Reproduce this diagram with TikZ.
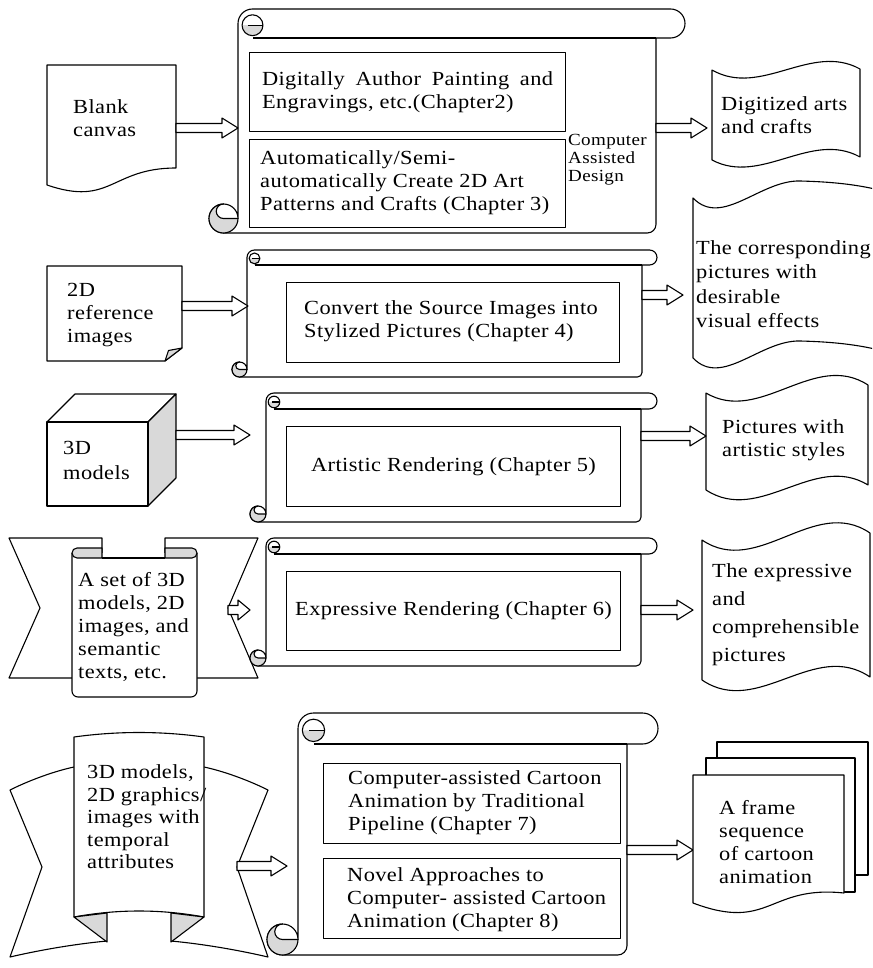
\documentclass[tikz,border=0pt]{standalone}
\usepackage{fontspec}
\setmainfont{Liberation Serif}[FakeStretch=1.12, LetterSpace=2]
\usetikzlibrary{calc}
\definecolor{rollgray}{RGB}{217,217,217}
\tikzset{
  ln/.style={line width=1.1pt, line join=round},
  txt/.style={font=\fontsize{20}{23}\selectfont, align=left, inner sep=0pt, anchor=west},
  hollow/.style={ln, fill=white, to path={let \p1=(\tikztostart), \p2=(\tikztotarget) in
     (\x1,\y1+4.5pt) -- (\x2-#1,\y1+4.5pt) -- (\x2-#1,\y1+10pt) -- (\x2,\y1) -- (\x2-#1,\y1-10pt) -- (\x2-#1,\y1-4.5pt) -- (\x1,\y1-4.5pt) -- cycle}},
  hollow/.default=16pt,
  box/.style={ln, draw, fill=white},
}
% horizontal scroll: left, right, top, bottom, bar height
\newcommand\hscroll[5]{%
\pgfmathsetmacro\sL{#1}%
\pgfmathsetmacro\sR{#2}%
\pgfmathsetmacro\sT{#3}%
\pgfmathsetmacro\sB{#4}%
\pgfmathsetmacro\sc{#5}%
\pgfmathsetmacro\sh{#5/2}%
\pgfmathsetmacro\sq{#5/4}%
\pgfmathsetmacro\sk{0.3*#5}%
\pgfmathsetmacro\sr{0.36*#5}%
\pgfmathsetmacro\cx{#1+#5/2}%
\pgfmathsetmacro\cy{#3+0.56*#5}%
\draw[ln,fill=white] (\sL,\sT+\sh) arc[start angle=180,end angle=270,radius=\sh]
  -- (\sR+\sh,\sT) arc[start angle=-90,end angle=90,radius=\sh]
  -- (\sR,\sT+\sc) -- (\sR,\sB-\sk) arc[start angle=0,end angle=90,radius=\sk]
  -- (\sL-\sh,\sB) arc[start angle=90,end angle=360,radius=\sh]
  -- cycle;
\draw[ln] (\sR,\sT+\sc) -- (\cx,\sT+\sc);
\fill[rollgray] (\cx-\sr,\cy) arc[start angle=180,end angle=0,radius=\sr] -- cycle;
\draw[ln] (\cx,\cy) circle[radius=\sr];
\draw[ln] (\cx-0.4*\sr,\cy) -- (\cx+\sr,\cy);
\filldraw[ln,fill=rollgray] (\sL-\sh,\sB) arc[start angle=90,end angle=270,radius=\sh]
  arc[start angle=270,end angle=90,radius=\sq]
  -- (\sL,\sB-\sh) arc[start angle=0,end angle=90,radius=\sh] -- cycle;
}
\begin{document}
\begin{tikzpicture}[x=1pt,y=-1pt]
\useasboundingbox (0,0) rectangle (872,968);
\clip (0,0) rectangle (872,968);

% ---------- Row 1 ----------
\draw[ln] (47,65) -- (176,65) -- (176,168) .. controls (111,168) and (111,207) .. (47,185) -- cycle;
\node[txt] (canvas) at (73,118.5) {Blank\\canvas};
\hscroll{238}{656}{9}{233}{29}
\node[box, minimum width=316pt, minimum height=79pt, anchor=north west] (b1) at (249,52) {};
\node[box, minimum width=316pt, minimum height=88pt, anchor=north west] (b2) at (249,139) {};
\node[txt, anchor=center, text width=291pt, align=justify] (t1) at (b1.center) {Digitally Author Painting and Engravings, etc.(Chapter2)};
\node[txt] (t2) at (260,183) {Automatically/Semi-\\automatically Create 2D Art\\Patterns and Crafts (Chapter 3)};
\node[txt, font=\fontsize{17}{18}\selectfont] (cad) at (568,160) {Computer\\Assisted\\Design};
\coordinate (a1s) at (176,128); \coordinate (a1e) at (238,128);
\draw[hollow] (a1s) to (a1e);
\coordinate (a2s) at (656,128); \coordinate (a2e) at (707,128);
\draw[hollow] (a2s) to (a2e);
\draw[ln] (712,70) .. controls (761,98) and (811,42) .. (860,69) -- (860,157) .. controls (811,130) and (761,186) .. (712,160) -- cycle;
\node[txt] (o1) at (721,115) {Digitized arts\\and crafts};

% ---------- Row 2 ----------
\draw[ln] (47,266) -- (182,266) -- (182,348) -- (165,361) -- (47,361) -- cycle;
\filldraw[ln,fill=rollgray] (182,348) -- (165,361) -- (168.5,350.5) -- cycle;
\node[txt] (ref) at (67,315) {2D\\reference\\images};
\hscroll{247}{642}{250}{377}{15}
\node[box, minimum width=333pt, minimum height=80pt, anchor=north west] (b3) at (286,282) {};
\node[txt] (t3) at (304,321) {Convert the Source Images into\\Stylized Pictures (Chapter 4)};
\coordinate (a3s) at (182,306); \coordinate (a3e) at (248,306);
\draw[hollow] (a3s) to (a3e);
\coordinate (a4s) at (642,295); \coordinate (a4e) at (683,295);
\draw[hollow] (a4s) to (a4e);
\draw[ln] (693,198) .. controls (722,228) and (760,180) .. (800,181) .. controls (840,182) and (870,186) .. (900,196)
  -- (900,356) .. controls (870,346) and (840,342) .. (800,341) .. controls (760,340) and (722,388) .. (693,358) -- cycle;
\node[txt, font=\fontsize{20}{24.5}\selectfont] (o2) at (696,284) {The corresponding\\pictures with\\desirable\\visual effects};

% ---------- Row 3 ----------
\draw[ln,fill=white] (47,422) -- (75,394) -- (176,394) -- (148,422) -- cycle;
\draw[ln,fill=rollgray] (148,422) -- (176,394) -- (176,478) -- (148,506) -- cycle;
\draw[ln,fill=white] (47,422) rectangle (148,506);
\node[txt, font=\fontsize{20}{25}\selectfont] (cube) at (63,460.5) {3D\\models};
\hscroll{266}{641}{393}{522}{16}
\node[box, minimum width=334pt, minimum height=80pt, anchor=north west] (b5) at (286,426) {};
\node[txt, anchor=center] (t5) at (b5.center) {Artistic Rendering (Chapter 5)};
\coordinate (a5s) at (176,435); \coordinate (a5e) at (250,435);
\draw[hollow] (a5s) to (a5e);
\coordinate (a6s) at (641,436); \coordinate (a6e) at (706,436);
\draw[hollow] (a6s) to (a6e);
\draw[ln] (706,393) .. controls (760,425) and (814,350) .. (868,385) -- (868,485) .. controls (814,452) and (760,525) .. (706,490) -- cycle;
\node[txt] (o3) at (722,440) {Pictures with\\artistic styles};

% ---------- Row 4 ----------
\draw[ln] (102,558) -- (102,538) -- (9,538) -- (40,608) -- (9,678) -- (72,678);
\draw[ln] (165,558) -- (165,538) -- (258,538) -- (228,608) -- (258,678) -- (197,678);
\draw[ln,fill=white] (72,553) -- (72,691) arc[start angle=180,end angle=90,radius=6] -- (191,697) arc[start angle=90,end angle=0,radius=6] -- (197,553);
\filldraw[ln,fill=rollgray] (102,548) -- (77,548) arc[start angle=270,end angle=90,radius=5] -- (102,558) -- cycle;
\filldraw[ln,fill=rollgray] (165,548) -- (192,548) arc[start angle=-90,end angle=90,radius=5] -- (165,558) -- cycle;
\draw[ln] (102,558) -- (165,558);
\node[txt] (set) at (78,626.5) {A set of 3D\\models, 2D\\images, and\\semantic\\texts, etc.};
\hscroll{266}{641}{538}{666}{16}
\node[box, minimum width=334pt, minimum height=79pt, anchor=north west] (b6) at (286,571) {};
\node[txt, anchor=center] (t6) at (b6.center) {Expressive Rendering (Chapter 6)};
\coordinate (a7s) at (228,610); \coordinate (a7e) at (250,610);
\draw[hollow=12pt] (a7s) to (a7e);
\coordinate (a8s) at (641,610); \coordinate (a8e) at (693,610);
\draw[hollow] (a8s) to (a8e);
\draw[ln] (702,540) .. controls (758,578) and (814,495) .. (870,533) -- (870,677) .. controls (814,639) and (758,718) .. (702,680) -- cycle;
\node[txt, font=\fontsize{20}{28}\selectfont] (o4) at (712,614.5) {The expressive\\and\\comprehensible\\pictures};

% ---------- Row 5 ----------
\draw[ln] (74,767) .. controls (55,771) and (30,780) .. (10,790) -- (42,867) -- (10,957) .. controls (40,950) and (75,944) .. (107,941);
\draw[ln] (204,767) .. controls (223,771) and (248,780) .. (268,790) -- (237,867) -- (268,957) .. controls (238,950) and (203,944) .. (171,941);
\draw[ln,fill=white] (74,737) .. controls (117,731) and (161,731) .. (204,737) -- (204,917) .. controls (161,909) and (117,909) .. (74,917) -- cycle;
\filldraw[ln,fill=rollgray] (74,917) -- (107,913) -- (107,942) -- cycle;
\filldraw[ln,fill=rollgray] (204,917) -- (171,913) -- (171,942) -- cycle;
\node[txt, font=\fontsize{20}{22.5}\selectfont] (anim) at (87,817) {3D models,\\2D graphics/\\images with\\temporal\\attributes};
\hscroll{298}{627}{713}{955}{31}
\node[box, minimum width=297pt, minimum height=80pt, anchor=north west] (b7) at (323,763) {};
\node[box, minimum width=297pt, minimum height=80pt, anchor=north west] (b8) at (323,858) {};
\node[txt] (t7) at (348,803) {Computer-assisted Cartoon\\Animation by Traditional\\Pipeline (Chapter 7)};
\node[txt] (t8) at (347,900) {Novel Approaches to\\Computer- assisted Cartoon\\Animation (Chapter 8)};
\coordinate (a9s) at (237,866); \coordinate (a9e) at (287,866);
\draw[hollow] (a9s) to (a9e);
\coordinate (a10s) at (627,850); \coordinate (a10e) at (693,850);
\draw[hollow] (a10s) to (a10e);
\draw[ln,fill=white] (717,758) -- (717,742) -- (868,742) -- (868,875) -- (855,875);
\draw[ln,fill=white] (706,775) -- (706,758) -- (855,758) -- (855,892) -- (844,892);
\draw[ln,fill=white] (693,775) -- (844,775) -- (844,893) .. controls (768,885) and (770,932) .. (693,903) -- cycle;
\node[txt] (frames) at (719,842) {A frame\\sequence\\of cartoon\\animation};
\end{tikzpicture}
\end{document}
